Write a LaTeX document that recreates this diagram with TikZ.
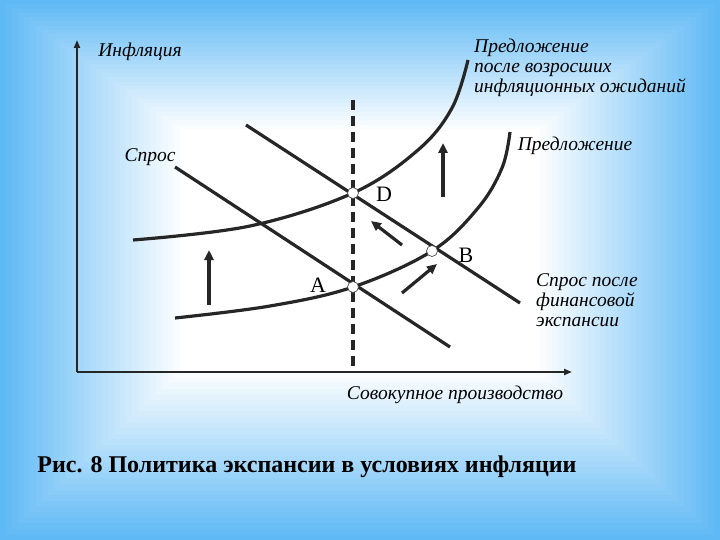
\documentclass[tikz,border=0pt]{standalone}
\usepackage{fontspec}
\setmainfont{Liberation Serif}
\usetikzlibrary{arrows.meta}
\definecolor{bgblue}{RGB}{95,185,245}
\begin{document}
\begin{tikzpicture}[x=1pt,y=-1pt,
  lbl/.style={font=\fontsize{19.5}{22}\selectfont\itshape, inner sep=0pt},
  crv/.style={line width=3.2pt, black!85},
  arr/.style={line width=3.2pt, black!85, -{Triangle[length=10pt,width=9pt]}},
  pt/.style={circle, draw=black!70, fill=white, minimum size=11pt, inner sep=0pt, line width=0.7pt}]
\useasboundingbox (0,0) rectangle (720,540);
\fill[bgblue] (0,0) rectangle (720,540);
\foreach \i in {1,...,30}{
  \pgfmathsetmacro\t{100*\i/30}
  \fill[white!\t!bgblue] (\i*6,\i*4.3) rectangle (720-\i*6,540-\i*5.6);
}
% axes
\coordinate (O) at (77,372);
\coordinate (Ytop) at (77,40);
\coordinate (Xend) at (572,372);
\draw[line width=2pt, black!85, -{Triangle[length=8pt,width=6pt]}] (O) -- (Ytop);
\draw[line width=2pt, black!85, -{Triangle[length=8pt,width=6pt]}] (O) -- (Xend);
% dashed
\coordinate (Dt) at (353,100);
\coordinate (Db) at (353,370);
\draw[line width=3.2pt, black!85, dash pattern=on 10pt off 6pt] (Dt) -- (Db);
% points
\coordinate (A) at (353,287);
\coordinate (B) at (432,251);
\coordinate (D) at (353,193);
% demand
\coordinate (d1) at (175,167); \coordinate (d2) at (450,347);
\draw[crv] (d1) -- (d2);
\coordinate (e1) at (246,125); \coordinate (e2) at (520,303);
\draw[crv] (e1) -- (e2);
% supply
\draw[crv] plot[smooth, tension=0.6] coordinates {(175,318) (270,306) (353,287) (432,251) (478,208) (502,168) (510,132)};
\draw[crv] plot[smooth, tension=0.6] coordinates {(133,240) (250,226) (353,193) (418,150) (452,108) (468,60)};
\node[pt] (pA) at (A) {};
\node[pt] (pB) at (B) {};
\node[pt] (pD) at (D) {};
% arrows
\coordinate (u1a) at (209,305); \coordinate (u1b) at (209,250);
\draw[arr] (u1a) -- (u1b);
\coordinate (u2a) at (443,197); \coordinate (u2b) at (443,143);
\draw[arr] (u2a) -- (u2b);
\coordinate (s1a) at (402,293); \coordinate (s1b) at (437,264);
\draw[arr] (s1a) -- (s1b);
\coordinate (s2a) at (402,245); \coordinate (s2b) at (371,221);
\draw[arr] (s2a) -- (s2b);
% labels
\node[lbl] (tI) at (140,52) {Инфляция};
\node[lbl, anchor=north west, align=left, font=\fontsize{19.5}{20}\selectfont\itshape] (tS2) at (474,39) {Предложение\\после возросших\\инфляционных ожиданий};
\node[lbl] (tS) at (575,146) {Предложение};
\node[lbl] (tD) at (150,157) {Спрос};
\node[font=\fontsize{22}{24}\selectfont, inner sep=0pt] (lD) at (384,194) {D};
\node[font=\fontsize{22}{24}\selectfont, inner sep=0pt] (lB) at (466,255) {B};
\node[font=\fontsize{22}{24}\selectfont, inner sep=0pt] (lA) at (318,285) {A};
\node[lbl, anchor=north west, align=left, font=\fontsize{19.5}{20}\selectfont\itshape] (tD2) at (536,273) {Спрос после\\финансовой\\экспансии};
\node[lbl] (tX) at (455,395) {Совокупное производство};
\node[font=\fontsize{24}{26}\selectfont\bfseries, inner sep=0pt] (title) at (307,467) {Рис. 8 Политика экспансии в условиях инфляции};
\end{tikzpicture}
\end{document}
